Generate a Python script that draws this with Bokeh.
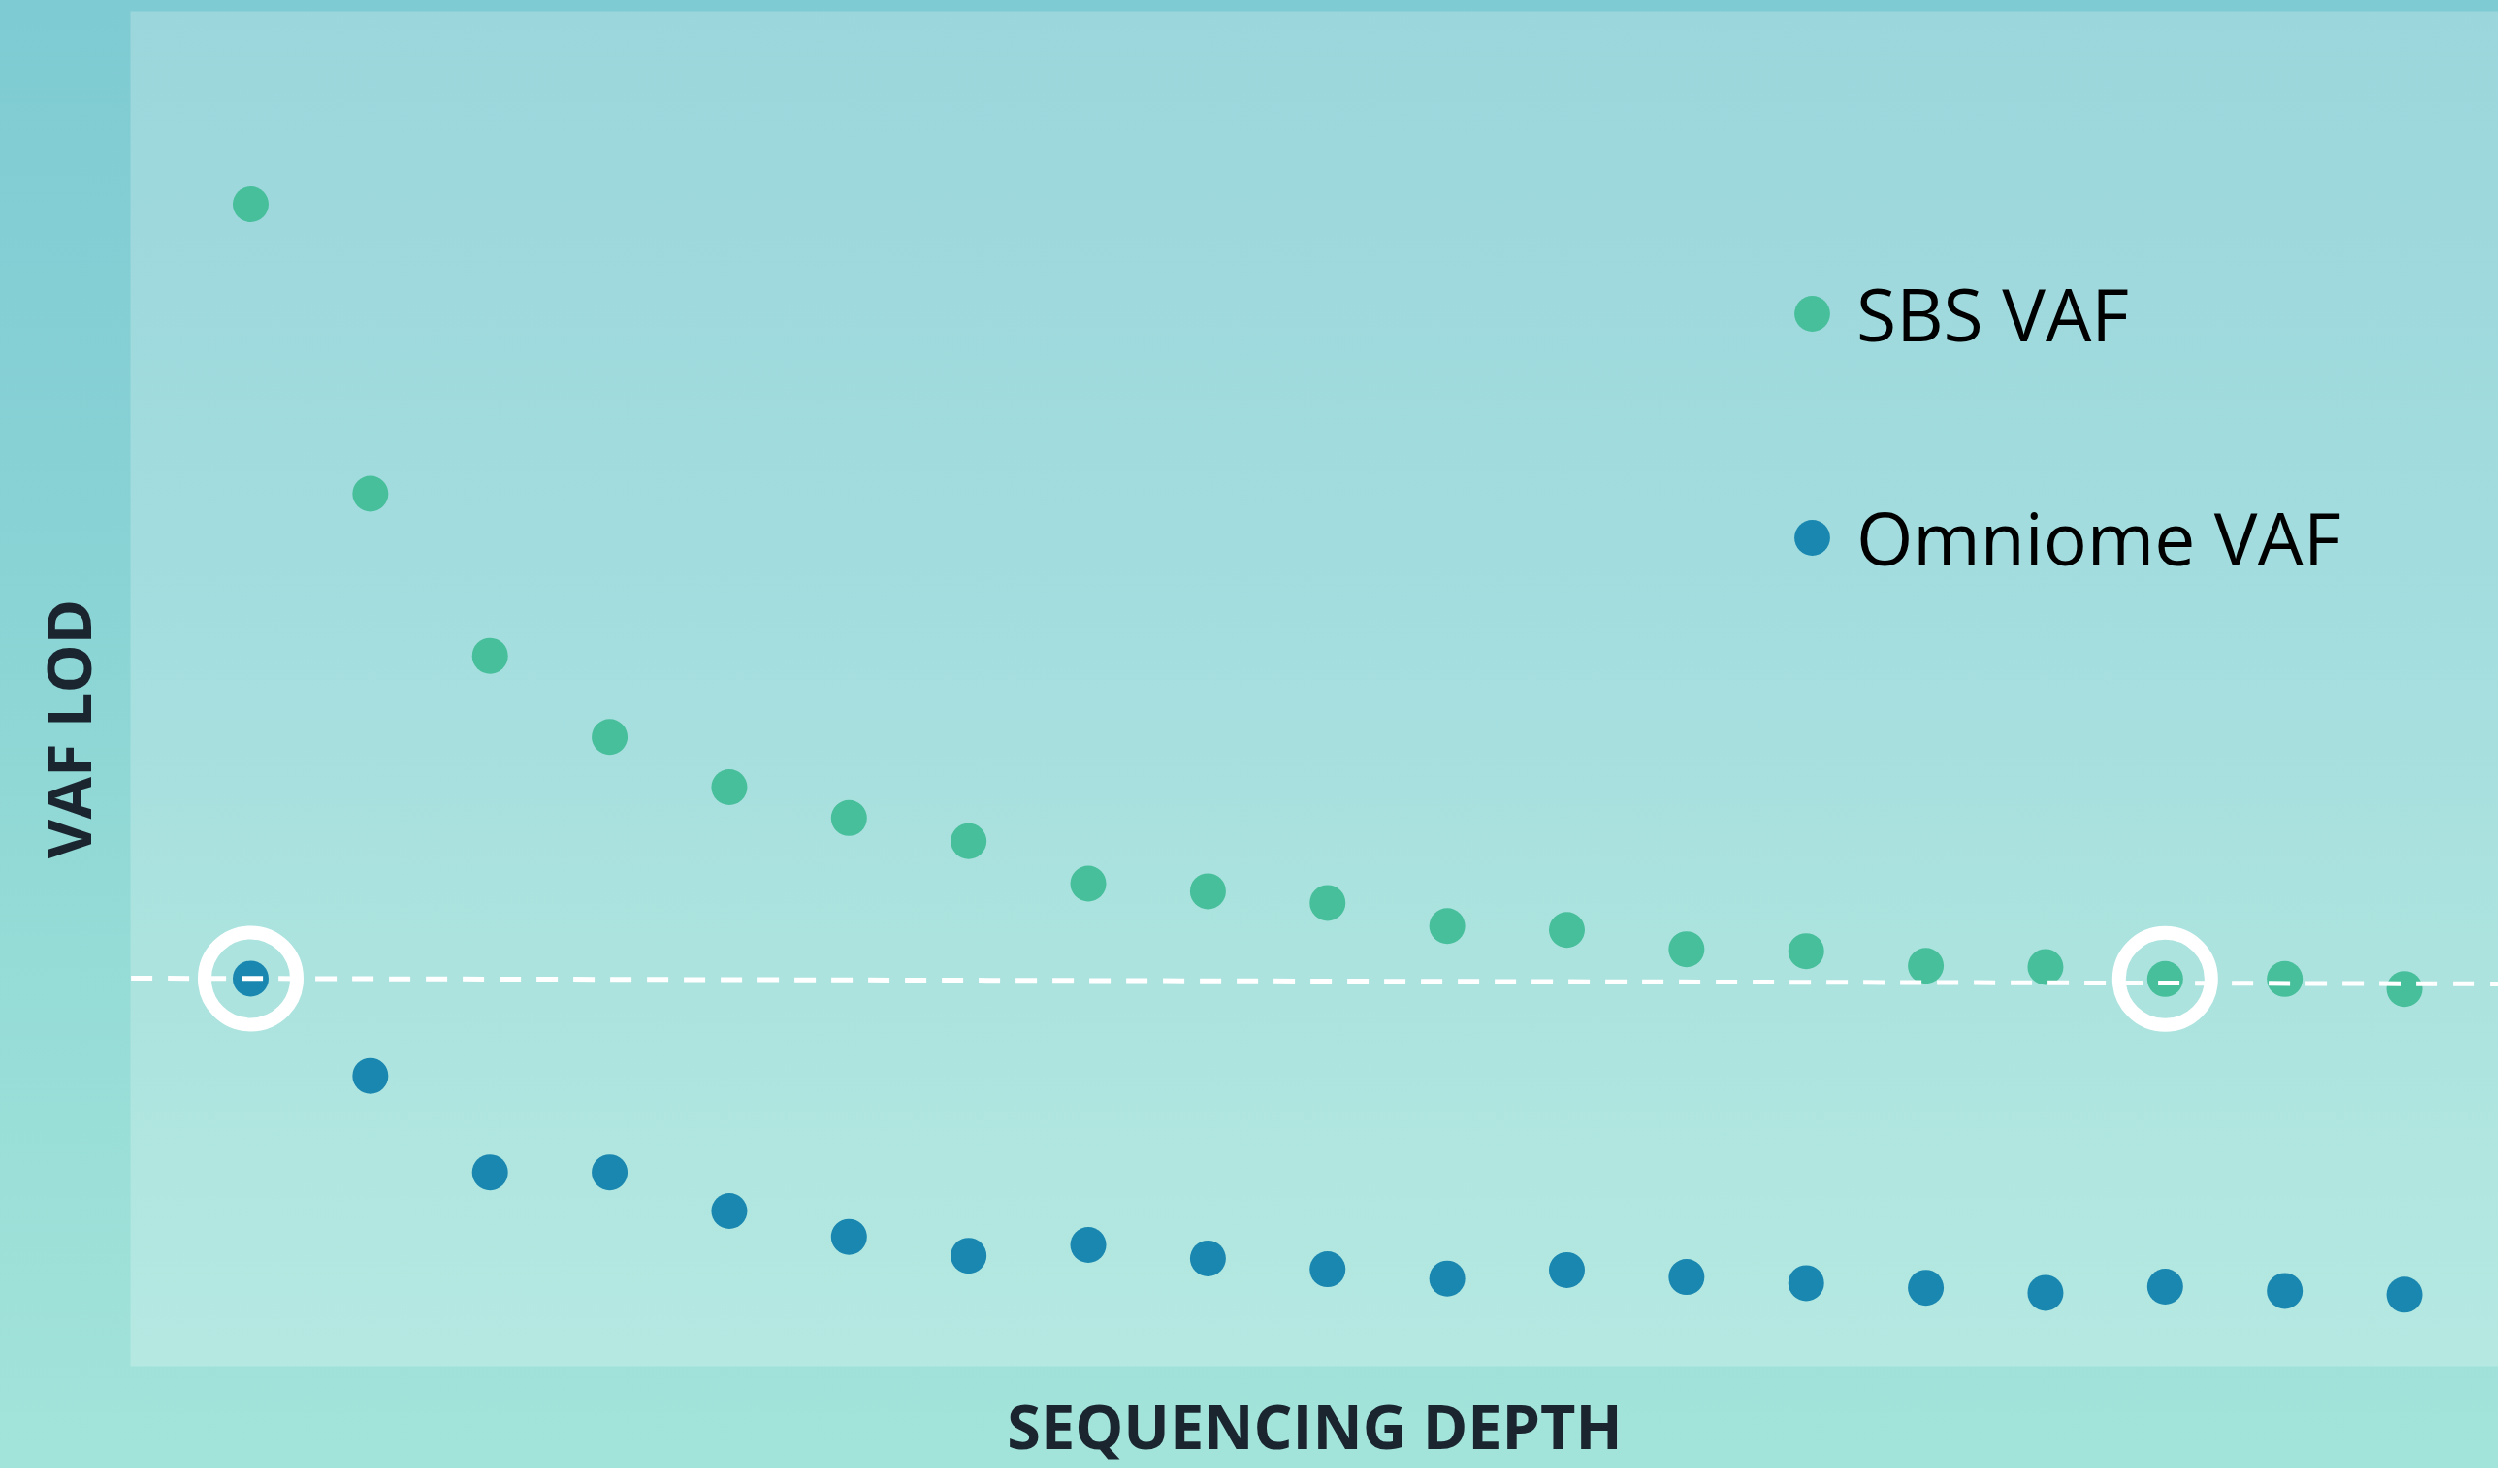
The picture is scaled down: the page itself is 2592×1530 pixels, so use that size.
from bokeh.plotting import figure
from bokeh.models import Range1d, Legend, LegendItem, InlineStyleSheet, Title
from bokeh.embed import file_html
from bokeh.resources import INLINE

# ---- data (arbitrary VAF units, LOD threshold = 1.0) ----
depth = list(range(1, 21))
sbs_vaf = [3.01, 2.26, 1.84, 1.63, 1.50, 1.42, 1.36, 1.25, 1.23, 1.20,
           1.14, 1.13, 1.08, 1.075, 1.037, 1.034, 1.003, 1.003, 0.977, 0.955]
omniome_vaf = [1.004, 0.752, 0.502, 0.502, 0.402, 0.335, 0.286, 0.314, 0.279, 0.251,
               0.227, 0.249, 0.231, 0.215, 0.203, 0.190, 0.206, 0.195, 0.185, 0.175]
lod_depth = [0, 20]
lod_vaf = [1.005, 0.99]
highlight_depth = [depth[0], depth[16]]
highlight_vaf = [omniome_vaf[0], sbs_vaf[16]]
series_labels = ["SBS VAF", "Omniome VAF"]
x_label = "SEQUENCING DEPTH"
y_label = "VAF LOD"

SBS_COLOR = "#48bf9b"
OMNI_COLOR = "#1a87b0"
TEXT_DARK = "#1a2530"

css = InlineStyleSheet(css="""
:host {
  background: linear-gradient(to bottom, #7fcbd3 0%, #88d2d5 35%, #93dad6 60%, #a3e4da 100%);
}
""")

p = figure(width=2576, height=1514, output_backend="svg", toolbar_location=None,
           x_range=Range1d(-0.005, 19.79), y_range=Range1d(0, 3.51),
           y_axis_location=None,
           min_border_left=134, min_border_right=0, min_border_top=11, min_border_bottom=106,
           stylesheets=[css])
p.border_fill_color = None
p.border_fill_alpha = 0
p.background_fill_color = "white"
p.background_fill_alpha = 0.22
p.outline_line_color = None
p.grid.visible = False

ax = p.xaxis
ax.ticker = []
ax.major_label_text_font_size = "0px"
ax.major_tick_out = 0
ax.major_tick_in = 0
ax.minor_tick_out = 0
ax.minor_tick_in = 0
ax.axis_line_color = None
ax.axis_label = x_label
ax.axis_label_text_font = "Open Sans"
ax.axis_label_text_font_style = "bold"
ax.axis_label_text_font_size = "63px"
ax.axis_label_text_color = TEXT_DARK
ax.axis_label_standoff = 18

ytitle = Title(text=y_label, align="left", offset=523, vertical_align="bottom",
               standoff=46, text_font="Open Sans", text_font_style="bold",
               text_font_size="63px", text_color=TEXT_DARK)
p.add_layout(ytitle, "left")

r_sbs = p.scatter(depth, sbs_vaf, size=37, fill_color=SBS_COLOR, line_color=None)
r_omni = p.scatter(depth, omniome_vaf, size=37, fill_color=OMNI_COLOR, line_color=None)

p.line(lod_depth, lod_vaf, line_color="white", line_width=5, line_dash="22 16")
p.scatter(highlight_depth, highlight_vaf, size=95, fill_color=None,
          line_color="white", line_width=14)

legend = Legend(items=[LegendItem(label=series_labels[0], renderers=[r_sbs]),
                       LegendItem(label=series_labels[1], renderers=[r_omni])],
                location=(1688, 794))
legend.glyph_width = 92
legend.glyph_height = 120
legend.label_height = 120
legend.label_standoff = 0
legend.spacing = 111
legend.padding = 0
legend.margin = 0
legend.border_line_color = None
legend.background_fill_alpha = 0
legend.label_text_font = "Open Sans"
legend.label_text_font_size = "75px"
legend.label_text_color = "black"
p.add_layout(legend, "center")

open("out.html", "w").write(file_html(p, INLINE))
